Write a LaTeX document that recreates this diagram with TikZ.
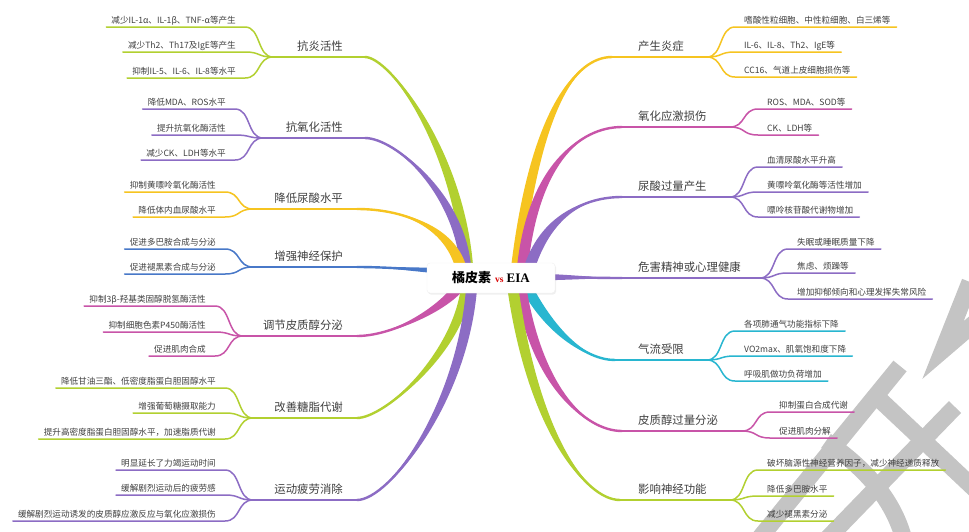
\documentclass[tikz,border=0pt]{standalone}
\usepackage{fontspec}
\setmainfont{Liberation Serif}
\newfontfamily\cjk{Noto Sans CJK SC}
\usetikzlibrary{calc,shadows}
\definecolor{cG}{RGB}{178,208,48}
\definecolor{cP}{RGB}{140,108,196}
\definecolor{cY}{RGB}{246,196,32}
\definecolor{cB}{RGB}{72,120,200}
\definecolor{cM}{RGB}{200,84,168}
\definecolor{cC}{RGB}{40,182,208}
\definecolor{txt}{RGB}{64,64,64}
\definecolor{wm}{RGB}{196,196,196}
\tikzset{
  leaf/.style={font=\cjk\fontsize{8.6}{10}\selectfont, text=txt, inner sep=0pt},
  mainlbl/.style={font=\cjk\fontsize{11.4}{13}\selectfont, text=txt, inner sep=0pt},
  leafline/.style={line width=1.5pt, line cap=round},
  mainline/.style={line width=2.4pt, line cap=round},
  wmline/.style={draw=wm, line width=17pt, line cap=butt, line join=miter},
}
\def\tw{5.5pt}
% tapered main branch: #1 colour, #2 name, #3 start, #4 ctrl1, #5 ctrl2, #6 end, #7 fork
\newcommand\taper[7]{%
  \coordinate (#2S) at (#3); \coordinate (#2C) at (#4);
  \coordinate (#2D) at (#5); \coordinate (#2e) at (#6);
  \coordinate (#2f) at (#7);
  \coordinate (#2S1) at ($(#2S)!\tw!90:(#2C)$);
  \coordinate (#2S2) at ($(#2S)!\tw!-90:(#2C)$);
  \coordinate (#2C1) at ($(#2C)+(#2S1)-(#2S)$);
  \coordinate (#2C2) at ($(#2C)+(#2S2)-(#2S)$);
  \fill[#1] (#2S1) .. controls (#2C1) and (#2D) .. (#2e) .. controls (#2D) and (#2C2) .. (#2S2) -- cycle;
  \draw[#1, mainline] (#2S) .. controls (#2C) and (#2D) .. (#2e);
  \draw[#1, mainline] (#2e) -- (#2f);
}
% left leaf: #1 name, #2 colour, #3 fork name, #4 fork x, #5 underline y, #6 text
\newcommand\lleaf[6]{%
  \node[leaf, anchor=base east] (#1) at (#4-37,#5-4) {#6};
  \draw[#2, leafline] ([xshift=-5pt,yshift=-4pt]#1.base west) -- (#4-28,#5)
     .. controls (#4-12,#5) and ($(#3)+(-16,0)$) .. (#3);
}
% right leaf
\newcommand\rleaf[6]{%
  \node[leaf, anchor=base west] (#1) at (#4+37,#5-4) {#6};
  \draw[#2, leafline] (#3) .. controls ($(#3)+(16,0)$) and (#4+12,#5) .. (#4+28,#5)
     -- ([xshift=6pt,yshift=-4pt]#1.base east);
}
\begin{document}
\begin{tikzpicture}[x=1pt,y=-1pt]
\useasboundingbox (0,0) rectangle (969,531);
\fill[white] (0,0) rectangle (969,531);

% ---------- watermark (behind) ----------
\begin{scope}
\clip (0,0) rectangle (969,531);
\draw[wmline] (900,366) -- (758,540);
\draw[wmline] (877,397) -- (980,494);
\draw[wmline] (955,407) -- (826,540);
\draw[wmline] (826,441) .. controls (862,466) and (893,497) .. (904,540);
\draw[wmline] (970,282) -- (943,350) -- (978,320);
\end{scope}

% ---------- left side ----------
\taper{cG}{b1}{468,272}{460,150}{390,57}{365,57}{273,57}
\node[mainlbl, anchor=base east] (m1) at (343,50) {抗炎活性};
\lleaf{l11}{cG}{b1f}{273}{27}{减少IL-1α、IL-1β、TNF-α等产生}
\lleaf{l12}{cG}{b1f}{273}{52}{减少Th2、Th17及IgE等产生}
\lleaf{l13}{cG}{b1f}{273}{78}{抑制IL-5、IL-6、IL-8等水平}

\taper{cP}{b2}{466,272}{462,195}{395,138}{365,138}{263,138}
\node[mainlbl, anchor=base east] (m2) at (343,131) {抗氧化活性};
\lleaf{l21}{cP}{b2f}{263}{109}{降低MDA、ROS水平}
\lleaf{l22}{cP}{b2f}{263}{135}{提升抗氧化酶活性}
\lleaf{l23}{cP}{b2f}{263}{160}{减少CK、LDH等水平}

\taper{cY}{b3}{462,272}{452,225}{400,209}{357,209}{253,209}
\node[mainlbl, anchor=base east] (m3) at (343,202) {降低尿酸水平};
\lleaf{l31}{cY}{b3f}{253}{192}{抑制黄嘌呤氧化酶活性}
\lleaf{l32}{cY}{b3f}{253}{217}{降低体内血尿酸水平}

\def\tw{3pt}
\taper{cB}{b4}{462,272}{420,270}{390,267}{357,267}{253,267}
\def\tw{5.5pt}
\node[mainlbl, anchor=base east] (m4) at (343,260) {增强神经保护};
\lleaf{l41}{cB}{b4f}{253}{249}{促进多巴胺合成与分泌}
\lleaf{l42}{cB}{b4f}{253}{274}{促进褪黑素合成与分泌}

\taper{cM}{b5}{462,282}{450,305}{395,336}{357,336}{243,336}
\node[mainlbl, anchor=base east] (m5) at (343,329) {调节皮质醇分泌};
\lleaf{l51}{cM}{b5f}{243}{306}{抑制3β-羟基类固醇脱氢酶活性}
\lleaf{l52}{cM}{b5f}{243}{332}{抑制细胞色素P450酶活性}
\lleaf{l53}{cM}{b5f}{243}{356}{促进肌肉合成}

\taper{cG}{b6}{467,282}{462,350}{385,418}{357,418}{253,418}
\node[mainlbl, anchor=base east] (m6) at (343,411) {改善糖脂代谢};
\lleaf{l61}{cG}{b6f}{253}{388}{降低甘油三酯、低密度脂蛋白胆固醇水平}
\lleaf{l62}{cG}{b6f}{253}{413}{增强葡萄糖摄取能力}
\lleaf{l63}{cG}{b6f}{253}{439}{提升高密度脂蛋白胆固醇水平，加速脂质代谢}

\taper{cP}{b7}{472,282}{465,400}{390,500}{357,500}{253,500}
\node[mainlbl, anchor=base east] (m7) at (343,493) {运动疲劳消除};
\lleaf{l71}{cP}{b7f}{253}{470}{明显延长了力竭运动时间}
\lleaf{l72}{cP}{b7f}{253}{495}{缓解剧烈运动后的疲劳感}
\lleaf{l73}{cP}{b7f}{253}{521}{缓解剧烈运动诱发的皮质醇应激反应与氧化应激损伤}

% ---------- right side ----------
\taper{cY}{r1}{516,272}{535,110}{575,57}{612,57}{707,57}
\node[mainlbl, anchor=base west] (n1) at (638,50) {产生炎症};
\rleaf{q11}{cY}{r1f}{707}{27}{嗜酸性粒细胞、中性粒细胞、白三烯等}
\rleaf{q12}{cY}{r1f}{707}{52}{IL-6、IL-8、Th2、IgE等}
\rleaf{q13}{cY}{r1f}{707}{77}{CC16、气道上皮细胞损伤等}

\taper{cM}{r2}{522,272}{532,165}{580,127}{622,127}{730,127}
\node[mainlbl, anchor=base west] (n2) at (638,120) {氧化应激损伤};
\rleaf{q21}{cM}{r2f}{730}{109}{ROS、MDA、SOD等}
\rleaf{q22}{cM}{r2f}{730}{135}{CK、LDH等}

\taper{cP}{r3}{528,272}{545,215}{585,197}{622,197}{730,197}
\node[mainlbl, anchor=base west] (n3) at (638,190) {尿酸过量产生};
\rleaf{q31}{cP}{r3f}{730}{167}{血清尿酸水平升高}
\rleaf{q32}{cP}{r3f}{730}{192}{黄嘌呤氧化酶等活性增加}
\rleaf{q33}{cP}{r3f}{730}{217}{嘌呤核苷酸代谢物增加}

\def\tw{3.5pt}
\taper{cP}{r4}{525,277}{565,277}{595,278}{622,278}{760,278}
\def\tw{5.5pt}
\node[mainlbl, anchor=base west] (n4) at (638,271) {危害精神或心理健康};
\rleaf{q41}{cP}{r4f}{760}{249}{失眠或睡眠质量下降}
\rleaf{q42}{cP}{r4f}{760}{273}{焦虑、烦躁等}
\rleaf{q43}{cP}{r4f}{760}{299}{增加抑郁倾向和心理发挥失常风险}

\taper{cC}{r5}{524,282}{548,330}{585,360}{615,360}{707,360}
\node[mainlbl, anchor=base west] (n5) at (638,353) {气流受限};
\rleaf{q51}{cC}{r5f}{707}{331}{各项肺通气功能指标下降}
\rleaf{q52}{cC}{r5f}{707}{356}{VO2max、肌氧饱和度下降}
\rleaf{q53}{cC}{r5f}{707}{381}{呼吸肌做功负荷增加}

\taper{cM}{r6}{520,282}{535,385}{585,431}{622,431}{742,431}
\node[mainlbl, anchor=base west] (n6) at (638,424) {皮质醇过量分泌};
\rleaf{q61}{cM}{r6f}{742}{412}{抑制蛋白合成代谢}
\rleaf{q62}{cM}{r6f}{742}{438}{促进肌肉分解}

\taper{cG}{r7}{512,282}{532,430}{585,500}{620,500}{730,500}
\node[mainlbl, anchor=base west] (n7) at (638,493) {影响神经功能};
\rleaf{q71}{cG}{r7f}{730}{470}{破坏脑源性神经营养因子，减少神经递质释放}
\rleaf{q72}{cG}{r7f}{730}{496}{降低多巴胺水平}
\rleaf{q73}{cG}{r7f}{730}{521}{减少褪黑素分泌}

% ---------- centre ----------
\node[draw=black!6, fill=white, rounded corners=3pt, minimum width=128pt, minimum height=30pt,
      drop shadow={opacity=0.12, shadow xshift=1pt, shadow yshift=-1.5pt}] (ctr) at (491,278)
  {{\cjk\bfseries\fontsize{13}{15}\selectfont 橘皮素}\hspace{4pt}{\color{red!85!black}\bfseries\fontsize{9.5}{10}\selectfont vs}\hspace{3pt}{\bfseries\fontsize{13}{15}\selectfont EIA}};
\end{tikzpicture}
\end{document}
